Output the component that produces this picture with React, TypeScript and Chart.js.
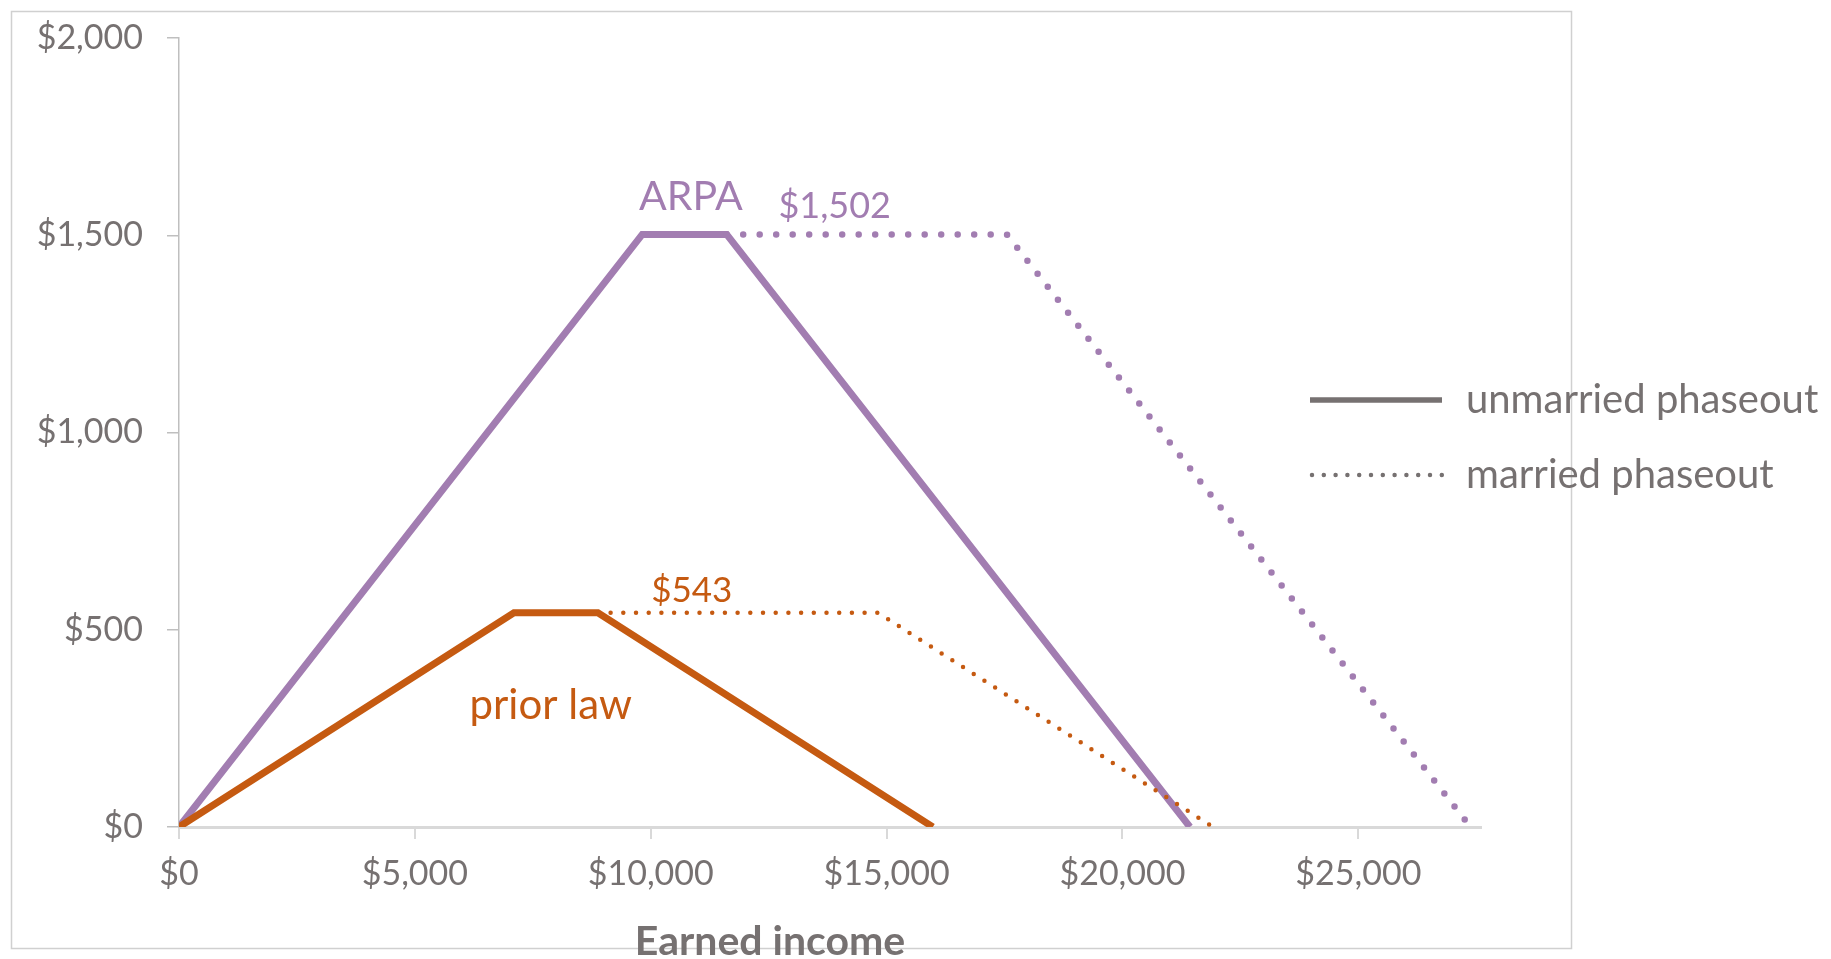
import React, { useEffect, useRef } from 'react';
import { Chart, registerables } from 'chart.js';

Chart.register(...registerables);

// ---- data ----
const arpaUnmarriedIncome = [0, 9820, 11610, 21430];
const arpaUnmarriedCredit = [0, 1502, 1502, 0];
const arpaMarriedIncome = [11610, 17550, 27380];
const arpaMarriedCredit = [1502, 1502, 0];
const priorUnmarriedIncome = [0, 7100, 8880, 15980];
const priorUnmarriedCredit = [0, 543, 543, 0];
const priorMarriedIncome = [8880, 14820, 21920];
const priorMarriedCredit = [543, 543, 0];

const xTickValues = [0, 5000, 10000, 15000, 20000, 25000];
const yTickValues = [0, 500, 1000, 1500, 2000];

const legendLabels = ['unmarried phaseout', 'married phaseout'];
const xTitle = 'Earned income';

// text labels placed in data coordinates
const noteTexts = ['ARPA', '$1,502', '$543', 'prior law'];
const noteIncome = [10850, 13900, 10870, 7880];
const noteCredit = [1597, 1574, 600, 309];

// ---- styles ----
const PURPLE = '#A27DB1';
const ORANGE = '#C55A11';
const GRAY = '#767171';
const FONT = 'Lato, "Open Sans", sans-serif';

const pts = (xs: number[], ys: number[]) => xs.map((x, i) => ({ x, y: ys[i] }));
const money = (v: number | string) => '$' + Number(v).toLocaleString('en-US');

const decor = {
  id: 'decor',
  beforeDraw(chart: any) {
    const ctx = chart.ctx;
    ctx.save();
    ctx.strokeStyle = '#D0D0D0';
    ctx.lineWidth = 1.5;
    ctx.strokeRect(11.5, 11.5, 1560, 937);
    ctx.restore();
  },
  afterDatasetsDraw(chart: any) {
    const ctx = chart.ctx;
    const xs = chart.scales.x;
    const ys = chart.scales.y;
    ctx.save();
    ctx.textAlign = 'center';
    ctx.textBaseline = 'middle';
    const colors = [PURPLE, PURPLE, ORANGE, ORANGE];
    const sizes = [41, 36, 35, 42];
    noteTexts.forEach((t, i) => {
      ctx.fillStyle = colors[i];
      ctx.font = `${sizes[i]}px ${FONT}`;
      ctx.fillText(t, xs.getPixelForValue(noteIncome[i]), ys.getPixelForValue(noteCredit[i]));
    });

    // legend
    ctx.strokeStyle = GRAY;
    ctx.lineWidth = 5.5;
    ctx.lineCap = 'butt';
    ctx.beginPath();
    ctx.moveTo(1310, 400);
    ctx.lineTo(1442, 400);
    ctx.stroke();
    ctx.lineWidth = 4.5;
    ctx.lineCap = 'round';
    ctx.setLineDash([0, 11.8]);
    ctx.beginPath();
    ctx.moveTo(1312, 475);
    ctx.lineTo(1442, 475);
    ctx.stroke();
    ctx.setLineDash([]);
    ctx.fillStyle = GRAY;
    ctx.textAlign = 'left';
    ctx.font = `40px ${FONT}`;
    ctx.fillText(legendLabels[0], 1466, 400);
    ctx.fillText(legendLabels[1], 1466, 475);

    // x title
    ctx.textAlign = 'center';
    ctx.font = `bold 41px ${FONT}`;
    ctx.fillText(xTitle, 770, 942);
    ctx.restore();
  },
};

export default function App() {
  const ref = useRef<HTMLCanvasElement>(null);
  useEffect(() => {
    if (!ref.current) return;
    const chart = new Chart(ref.current, {
      type: 'line',
      data: {
        datasets: [
          {
            label: 'prior law married',
            data: pts(priorMarriedIncome, priorMarriedCredit),
            borderColor: ORANGE,
            borderWidth: 4.5,
            borderDash: [0, 12.7],
            borderCapStyle: 'round',
            pointRadius: 0,
          },
          {
            label: 'prior law unmarried',
            data: pts(priorUnmarriedIncome, priorUnmarriedCredit),
            borderColor: ORANGE,
            borderWidth: 7,
            pointRadius: 0,
          },
          {
            label: 'ARPA married',
            data: pts(arpaMarriedIncome, arpaMarriedCredit),
            borderColor: PURPLE,
            borderWidth: 6.5,
            borderDash: [0, 16.5],
            borderCapStyle: 'round',
            pointRadius: 0,
          },
          {
            label: 'ARPA unmarried',
            data: pts(arpaUnmarriedIncome, arpaUnmarriedCredit),
            borderColor: PURPLE,
            borderWidth: 7,
            pointRadius: 0,
          },
        ] as any,
      },
      options: {
        animation: false,
        responsive: false,
        events: [],
        layout: { padding: { left: 0, top: 38, right: 350, bottom: 0 } },
        plugins: { legend: { display: false }, tooltip: { enabled: false } },
        scales: {
          x: {
            type: 'linear',
            min: 0,
            max: 27600,
            afterFit: (s: any) => { s.height = 132; s.paddingLeft = 0; s.paddingRight = 0; },
            afterBuildTicks: (s: any) => { s.ticks = xTickValues.map((v) => ({ value: v })); },
            border: { color: '#D9D9D9', width: 3 },
            grid: { drawOnChartArea: false, drawTicks: true, tickLength: 12, color: '#D9D9D9', lineWidth: 2 },
            ticks: {
              maxRotation: 0,
              autoSkip: false,
              padding: 15,
              color: GRAY,
              font: { family: FONT, size: 34 },
              callback: (v: any) => money(v),
            },
          },
          y: {
            min: 0,
            max: 2000,
            afterFit: (s: any) => { s.width = 179; s.paddingTop = 0; s.paddingBottom = 0; },
            afterBuildTicks: (s: any) => { s.ticks = yTickValues.map((v) => ({ value: v })); },
            border: { color: '#BFBFBF', width: 1.5 },
            grid: { drawOnChartArea: false, drawTicks: true, tickLength: 12, color: '#BFBFBF', lineWidth: 1.5 },
            ticks: {
              padding: 24,
              autoSkip: false,
              color: GRAY,
              font: { family: FONT, size: 34 },
              callback: (v: any) => money(v),
            },
          },
        },
      } as any,
      plugins: [decor],
    });
    return () => chart.destroy();
  }, []);
  return (
    <div style={{ position: 'fixed', left: 0, top: 0, width: 1831, height: 959, background: '#fff' }}>
      <canvas ref={ref} width={1831} height={959} style={{ display: 'block' }} />
    </div>
  );
}
